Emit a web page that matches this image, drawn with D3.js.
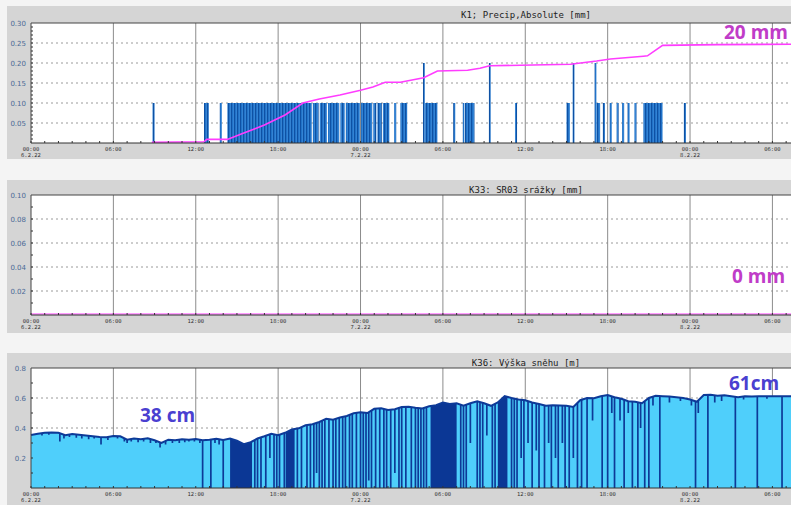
<!DOCTYPE html>
<meta charset="utf-8">
<style>
  body { margin: 0; background: #f4f4f4; }
</style>
<svg width="791" height="505"></svg>
<script src="https://d3js.org/d3.v7.min.js"></script>
<script>

// time origin of all series: 6.2.22 00:00, values keyed by hours from it
var t0 = new Date(2022, 1, 6, 0, 0)
function at(h) { return new Date(+t0 + h * 3600e3) }

// K1 precip: [start h, end h, mm]
var precipBars = [
  [8.85, 9.0, 0.1], [12.6, 12.95, 0.1], [13.75, 13.9, 0.1],
  [14.3, 20.45, 0.1], [20.53, 20.95, 0.1], [21.03, 21.55, 0.1], [21.63, 22.45, 0.1],
  [22.53, 22.85, 0.1], [22.93, 23.95, 0.1], [24.03, 24.85, 0.1], [24.93, 25.15, 0.1],
  [25.23, 25.55, 0.1], [25.63, 26.1, 0.1], [26.45, 26.6, 0.1], [26.9, 27.4, 0.1],
  [28.55, 28.68, 0.2], [28.7, 29.6, 0.1], [30.75, 30.9, 0.1], [31.45, 31.55, 0.1],
  [31.6, 32.3, 0.1], [33.35, 33.48, 0.2], [35.25, 35.4, 0.1], [39.0, 39.25, 0.1],
  [39.45, 39.58, 0.2], [41.05, 41.18, 0.2], [41.18, 41.45, 0.1], [41.65, 41.8, 0.1],
  [42.15, 42.3, 0.1], [42.65, 42.8, 0.1], [43.05, 43.2, 0.1], [43.45, 43.6, 0.1],
  [43.95, 44.1, 0.1], [44.6, 46.0, 0.1], [47.55, 47.7, 0.1]
]

// K1 cumulative line: [h, value]
var precipCum = [
  [8.8, 0.002], [12.6, 0.003], [12.8, 0.009], [14.3, 0.009], [15.5, 0.025],
  [17.0, 0.045], [18.5, 0.07], [19.8, 0.1], [21.0, 0.11], [22.5, 0.12],
  [24.0, 0.132], [24.9, 0.14], [25.8, 0.152], [26.9, 0.152], [28.6, 0.163],
  [29.6, 0.18], [31.8, 0.182], [32.7, 0.187], [33.4, 0.193], [39.3, 0.197],
  [41.2, 0.205], [42.2, 0.21], [44.6, 0.217], [44.9, 0.218], [46.0, 0.244],
  [50.0, 0.246], [56.2, 0.247]
]

// K33 srazky: flat zero
var srazky = [[0, 0], [56.2, 0]]

// K36 snow depth [m], every 0.5 h from 00:00 6.2.22
var snowDepth = [
  0.353, 0.362, 0.369, 0.370, 0.368, 0.352, 0.360, 0.355, 0.350, 0.345,
  0.340, 0.338, 0.347, 0.345, 0.322, 0.330, 0.325, 0.332, 0.318, 0.300,
  0.322, 0.318, 0.325, 0.322, 0.326, 0.318, 0.322, 0.328, 0.320, 0.330,
  0.315, 0.292, 0.305, 0.330, 0.345, 0.362, 0.352, 0.368, 0.390, 0.398,
  0.418, 0.425, 0.440, 0.462, 0.455, 0.470, 0.480, 0.498, 0.505, 0.500,
  0.528, 0.532, 0.520, 0.525, 0.540, 0.542, 0.535, 0.530, 0.545, 0.552,
  0.570, 0.560, 0.565, 0.548, 0.565, 0.578, 0.565, 0.548, 0.570, 0.612,
  0.600, 0.590, 0.585, 0.570, 0.560, 0.548, 0.552, 0.550, 0.548, 0.540,
  0.585, 0.600, 0.598, 0.612, 0.620, 0.605, 0.595, 0.578, 0.575, 0.565,
  0.600, 0.615, 0.612, 0.610, 0.605, 0.600, 0.590, 0.575, 0.620, 0.622,
  0.615, 0.618, 0.612, 0.605, 0.612, 0.610, 0.612, 0.612, 0.611, 0.611,
  0.611, 0.611, 0.611
]

// dropouts in snow depth: [h, lowest value]
var snowDips = [
  [0.8, 0.35], [1.3, 0.355], [2.1, 0.31], [2.4, 0.33], [2.8, 0.34], [3.3, 0.335],
  [3.7, 0.33], [4.2, 0.325], [4.6, 0.33], [5.1, 0.29], [5.6, 0.32], [6.3, 0.33],
  [6.8, 0.31], [7.0, 0.30], [7.3, 0.31], [7.8, 0.305], [8.2, 0.31], [8.7, 0.30],
  [9.1, 0.30], [9.4, 0.27], [9.8, 0.29], [10.3, 0.30], [10.8, 0.30], [11.2, 0.305],
  [11.5, 0.31], [11.9, 0.31], [12.3, 0.30], [13.4, 0.30], [13.7, 0.29],
  [12.5, 0], [13.1, 0], [14.0, 0], [16.3, 0], [16.5, 0], [16.75, 0], [17.1, 0],
  [17.4, 0.2], [17.7, 0], [17.9, 0], [18.1, 0], [18.45, 0], [19.4, 0], [19.7, 0],
  [20.1, 0], [20.35, 0], [20.6, 0], [20.8, 0.1], [21.0, 0], [21.2, 0], [21.4, 0],
  [21.7, 0], [22.0, 0], [22.2, 0], [22.45, 0], [22.7, 0], [22.9, 0], [23.2, 0],
  [23.4, 0], [23.7, 0], [24.0, 0], [24.2, 0], [24.4, 0], [24.6, 0.05], [24.8, 0],
  [25.1, 0], [25.4, 0], [25.7, 0], [25.9, 0], [26.2, 0], [26.5, 0.1], [26.8, 0],
  [27.0, 0], [27.3, 0], [27.7, 0], [28.0, 0], [28.2, 0], [28.4, 0], [28.6, 0],
  [28.8, 0], [31.3, 0], [31.5, 0], [31.7, 0], [32.0, 0.3], [32.5, 0], [32.7, 0],
  [32.9, 0], [33.2, 0.35], [33.6, 0], [33.8, 0], [35.0, 0], [35.2, 0], [35.4, 0],
  [35.7, 0.2], [35.9, 0], [36.2, 0.3], [36.5, 0], [36.8, 0.25], [37.0, 0],
  [37.4, 0], [37.7, 0.3], [37.9, 0], [38.2, 0.2], [38.4, 0], [38.7, 0.3],
  [38.9, 0], [39.2, 0], [39.5, 0.2], [39.8, 0], [40.1, 0], [40.5, 0],
  [40.9, 0.45], [41.6, 0], [42.0, 0], [42.3, 0.5], [42.5, 0], [42.9, 0.45],
  [43.2, 0], [43.5, 0.5], [43.8, 0], [44.2, 0], [44.4, 0.4], [44.7, 0],
  [45.0, 0], [45.3, 0.55], [45.8, 0], [46.5, 0.57], [47.3, 0.58], [48.1, 0.55],
  [48.4, 0], [48.6, 0.5], [49.3, 0], [49.8, 0.57], [50.3, 0.58], [51.3, 0],
  [51.9, 0.59], [52.9, 0], [53.6, 0.595], [54.7, 0]
]

// spans so dense with dropouts they read as solid dark
var snowDark = [[14.5, 16.1], [18.55, 19.2], [29.1, 31.0], [34.0, 34.7]]

var width = 791
var height = 505
var svg = d3.select('svg')

var plotLeft = 31
var x = d3.scaleTime()
  .domain([t0, at(56.2)])
  .range([plotLeft, plotLeft + 56.2 * 13.73])

var defs = svg.append('defs')
var stripes = defs.append('pattern')
  .attr('id', 'stripes')
  .attr('patternUnits', 'userSpaceOnUse')
  .attr('width', 3).attr('height', 10)
stripes.append('rect').attr('width', 3).attr('height', 10).attr('fill', '#1a6cc4')
stripes.append('rect').attr('width', 0.8).attr('height', 10).attr('fill', '#0b4a9c')
stripes.append('rect').attr('x', 1.9).attr('width', 0.5).attr('height', 10).attr('fill', '#5aa6ea')

var panels = [
  { top: 6, bottom: 159, plotTop: 23, plotBottom: 143, titleY: 18,
    title: 'K1; Precip,Absolute [mm]', max: 0.3, step: 0.05, minor: 0.01, fmt: '.2f' },
  { top: 180, bottom: 333, plotTop: 195, plotBottom: 315, titleY: 193,
    title: 'K33: SR03 srážky [mm]', max: 0.1, step: 0.02, minor: 0.01, fmt: '.2f' },
  { top: 353, bottom: 512, plotTop: 368, plotBottom: 488, titleY: 366,
    title: 'K36: Výška sněhu [m]', max: 0.8, step: 0.2, minor: 0.1, fmt: '.1f' }
]

var majorTicks = x.ticks(d3.timeHour.every(6))
var minorTicks = x.ticks(d3.timeHour.every(1))
var fmtTime = d3.timeFormat('%H:%M')

panels.forEach(function (p, i) {
  var g = svg.append('g')
  p.y = d3.scaleLinear().domain([0, p.max]).range([p.plotBottom, p.plotTop])

  g.append('rect')
    .attr('x', 7).attr('y', p.top)
    .attr('width', width - 7).attr('height', p.bottom - p.top)
    .attr('fill', '#d5d5d5')

  g.append('text')
    .attr('x', 526).attr('y', p.titleY)
    .attr('text-anchor', 'middle')
    .style('font-family', '"DejaVu Sans Mono", monospace')
    .attr('font-size', 9).attr('fill', '#222')
    .text(p.title)

  g.append('rect')
    .attr('x', plotLeft).attr('y', p.plotTop)
    .attr('width', width - plotLeft).attr('height', p.plotBottom - p.plotTop)
    .attr('fill', '#fff')

  var yTicks = d3.range(p.step, p.max + 1e-9, p.step)

  // dashed horizontal grid
  g.selectAll('.hgrid').data(yTicks.slice(0, -1)).enter().append('line')
    .attr('x1', plotLeft).attr('x2', width)
    .attr('y1', function (d) { return p.y(d) }).attr('y2', function (d) { return p.y(d) })
    .attr('stroke', '#9a9a9a').attr('stroke-dasharray', '2,3')

  // solid vertical grid
  g.selectAll('.vgrid').data(majorTicks.slice(1)).enter().append('line')
    .attr('x1', function (d) { return x(d) }).attr('x2', function (d) { return x(d) })
    .attr('y1', p.plotTop).attr('y2', p.plotBottom)
    .attr('stroke', '#8c8c8c')

  p.g = g
})

// top: precip bars + cumulative
var p1 = panels[0]
p1.g.selectAll('.bar').data(precipBars).enter().append('rect')
  .attr('x', function (d) { return x(at(d[0])) })
  .attr('width', function (d) { return Math.max(1.5, x(at(d[1])) - x(at(d[0]))) })
  .attr('y', function (d) { return p1.y(d[2]) })
  .attr('height', function (d) { return p1.plotBottom - p1.y(d[2]) })
  .attr('fill', 'url(#stripes)')

p1.g.append('path')
  .datum(precipCum)
  .attr('d', d3.line()
    .x(function (d) { return x(at(d[0])) })
    .y(function (d) { return p1.y(d[1]) }))
  .attr('fill', 'none').attr('stroke', '#ff3cff').attr('stroke-width', 1.6)

// middle: zero line
var p2 = panels[1]
p2.g.append('path')
  .datum(srazky)
  .attr('d', d3.line()
    .x(function (d) { return x(at(d[0])) })
    .y(function (d) { return p2.y(d[1]) - 1 }))
  .attr('fill', 'none').attr('stroke', '#ff3cff').attr('stroke-width', 1.2)

// bottom: snow depth area
var p3 = panels[2]
var snowArea = d3.area()
  .x(function (d, i) { return x(at(i * 0.5)) })
  .y0(p3.plotBottom)
  .y1(function (d) { return p3.y(d) })

p3.g.append('path')
  .datum(snowDepth)
  .attr('d', snowArea)
  .attr('fill', '#4fcffb')

defs.append('clipPath').attr('id', 'darkclip')
  .selectAll('rect').data(snowDark).enter().append('rect')
  .attr('x', function (d) { return x(at(d[0])) })
  .attr('width', function (d) { return x(at(d[1])) - x(at(d[0])) })
  .attr('y', p3.plotTop).attr('height', p3.plotBottom - p3.plotTop)

p3.g.append('path')
  .datum(snowDepth)
  .attr('d', snowArea)
  .attr('fill', '#0b3795')
  .attr('clip-path', 'url(#darkclip)')

function snowAt(h) {
  var i = h * 2, a = Math.floor(i), b = Math.min(snowDepth.length - 1, a + 1)
  return snowDepth[a] + (snowDepth[b] - snowDepth[a]) * (i - a)
}

p3.g.selectAll('.dip').data(snowDips).enter().append('line')
  .attr('x1', function (d) { return x(at(d[0])) }).attr('x2', function (d) { return x(at(d[0])) })
  .attr('y1', function (d) { return p3.y(Math.min(d[1], snowAt(d[0]) - 0.01)) })
  .attr('y2', function (d) { return p3.y(snowAt(d[0])) })
  .attr('stroke', '#0d3a98').attr('stroke-width', 1.7)

p3.g.append('path')
  .datum(snowDepth)
  .attr('d', d3.line()
    .x(function (d, i) { return x(at(i * 0.5)) })
    .y(function (d) { return p3.y(d) }))
  .attr('fill', 'none').attr('stroke', '#0d3a98').attr('stroke-width', 2)

// frames, ticks, labels on top of the data
panels.forEach(function (p) {
  var g = p.g
  g.append('line')
    .attr('x1', plotLeft).attr('x2', width).attr('y1', p.plotTop).attr('y2', p.plotTop)
    .attr('stroke', '#444')
  g.append('line')
    .attr('x1', plotLeft).attr('x2', plotLeft).attr('y1', p.plotTop).attr('y2', p.plotBottom)
    .attr('stroke', '#444')
  g.append('line')
    .attr('x1', plotLeft).attr('x2', width).attr('y1', p.plotBottom).attr('y2', p.plotBottom)
    .attr('stroke', '#333')

  g.selectAll('.mx').data(minorTicks).enter().append('line')
    .attr('x1', function (d) { return x(d) }).attr('x2', function (d) { return x(d) })
    .attr('y1', p.plotBottom - 2).attr('y2', p.plotBottom)
    .attr('stroke', '#333')

  g.selectAll('.my').data(d3.range(p.minor, p.max, p.minor)).enter().append('line')
    .attr('x1', plotLeft).attr('x2', plotLeft + 2)
    .attr('y1', function (d) { return p.y(d) }).attr('y2', function (d) { return p.y(d) })
    .attr('stroke', '#333')

  g.selectAll('.yl').data(d3.range(p.step, p.max + 1e-9, p.step)).enter().append('text')
    .attr('x', 26).attr('y', function (d) { return p.y(d) + 2.5 })
    .attr('text-anchor', 'end')
    .style('font-family', '"DejaVu Sans", sans-serif').attr('font-size', 7)
    .attr('fill', '#4b6a96')
    .text(function (d) { return d3.format(p.fmt)(d) })

  var xl = g.selectAll('.xl').data(majorTicks).enter().append('text')
    .attr('x', function (d) { return x(d) })
    .attr('y', p.plotBottom + 8)
    .attr('text-anchor', 'middle')
    .style('font-family', '"DejaVu Sans Mono", monospace')
    .attr('font-size', 5.5).attr('fill', '#333')
  xl.append('tspan').text(function (d) { return fmtTime(d) })
  xl.filter(function (d) { return d.getHours() === 0 }).append('tspan')
    .attr('x', function (d) { return x(d) }).attr('dy', 6)
    .text(function (d) { return d.getDate() + '.' + (d.getMonth() + 1) + '.' + (d.getFullYear() % 100) })
})

// annotations
var notes = [
  { text: '20 mm', x: 724, y: 39, color: '#c03cc8' },
  { text: '0 mm', x: 732, y: 283, color: '#c03cc8' },
  { text: '38 cm', x: 140, y: 422, color: '#4a3fd0' },
  { text: '61cm', x: 729, y: 390, color: '#4a3fd0' }
]
svg.selectAll('.note').data(notes).enter().append('text')
  .attr('x', function (d) { return d.x }).attr('y', function (d) { return d.y })
  .style('font-family', '"Open Sans", sans-serif').attr('font-weight', 'bold').attr('font-size', 19)
  .attr('fill', function (d) { return d.color })
  .text(function (d) { return d.text })

</script>
